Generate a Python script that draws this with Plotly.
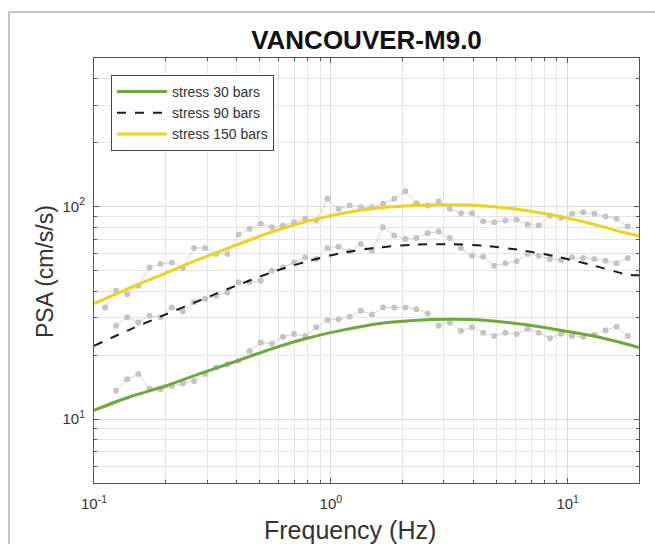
import plotly.graph_objects as go

# ---------------- data ----------------
# theoretical curves
curve_freq = [0.1, 0.141, 0.2, 0.282, 0.398, 0.562, 0.794, 1.12, 1.58, 2.24, 3.16, 4.47,
              6.31, 8.91, 12.6, 17.8, 20.0]
stress30 = [11.0, 12.7, 14.3, 16.4, 18.7, 21.4, 24.0, 26.2, 28.1, 29.1, 29.5, 29.2,
            28.0, 26.4, 24.7, 22.5, 21.7]
stress90 = [22.1, 26.3, 31.0, 36.3, 42.4, 49.0, 55.2, 60.5, 64.1, 66.1, 66.5, 65.3,
            62.4, 58.2, 53.1, 47.9, 47.5]
stress150 = [34.9, 41.3, 48.5, 56.8, 65.8, 75.9, 85.1, 92.9, 98.4, 101.2, 102.0, 100.7,
             96.6, 90.6, 83.0, 74.8, 72.8]

# observed (gray) spectra
obs_freq = [0.1113, 0.1240, 0.1381, 0.1539, 0.1714, 0.1910, 0.2129, 0.2372, 0.2643, 0.2944,
            0.3281, 0.3656, 0.4073, 0.4538, 0.5056, 0.5634, 0.6278, 0.6994, 0.7793, 0.8682,
            0.9674, 1.078, 1.201, 1.338, 1.491, 1.661, 1.851, 2.062, 2.297, 2.560,
            2.852, 3.178, 3.540, 3.945, 4.395, 4.898, 5.458, 6.080, 6.775, 7.548,
            8.411, 9.371, 10.44, 11.63, 12.96, 14.44, 16.09, 17.93]
obs_high = [33.5, 40.2, 38.7, 42.4, 51.7, 53.7, 54.6, 51.4, 63.8, 63.8,
            59.8, 59.8, 73.8, 78.5, 82.9, 79.9, 81.4, 84.3, 87.5, 85.9,
            108.7, 97.5, 101.1, 99.2, 99.2, 103.0, 108.7, 118.0, 103.6, 101.1,
            105.9, 97.5, 93.0, 93.0, 85.3, 84.3, 85.9, 86.6, 82.3, 81.4,
            90.7, 88.5, 92.4, 94.0, 92.4, 89.7, 87.5, 80.5]
obs_mid = [None, 27.5, 30.1, 28.5, 30.6, 30.1, 33.5, 32.1, 35.4, 36.7,
           38.0, 39.4, 44.0, 44.0, 44.8, 49.9, 51.7, 54.6, 57.7, 56.7,
           63.8, 64.7, 61.5, 66.7, 62.0, 79.9, 73.0, 70.4, 71.1, 74.8,
           76.2, 71.1, 63.8, 58.7, 58.1, 52.7, 54.1, 55.2, 59.8, 58.7,
           56.7, 56.1, 57.7, 57.3, 56.7, 55.6, 54.1, 57.3]
obs_low = [None, 13.6, 15.4, 16.3, 13.9, 13.8, 14.3, 14.7, 15.1, 16.3,
           17.5, 18.1, 18.8, 20.9, 22.9, 22.6, 24.4, 25.1, 24.6, 27.0,
           29.2, 29.5, 30.3, 32.3, 31.0, 33.5, 33.5, 33.5, 32.9, 31.4,
           27.5, 28.5, 26.0, 27.0, 25.5, 24.6, 25.5, 25.1, 26.5, 25.5,
           24.0, 25.2, 24.6, 24.4, 24.9, 26.2, 27.2, 24.6]

x_tickvals = [0.1, 1, 10]
x_ticktext = ["10<sup>-1</sup>", "10<sup>0</sup>", "10<sup>1</sup>"]
x_minor = [0.2, 0.3, 0.4, 0.5, 0.6, 0.7, 0.8, 0.9, 2, 3, 4, 5, 6, 7, 8, 9, 20]
y_tickvals = [10, 100]
y_ticktext = ["10<sup>1</sup>", "10<sup>2</sup>"]
y_minor = [5, 6, 7, 8, 9, 20, 30, 40, 50, 60, 70, 80, 90, 200, 300, 400, 500]

FONT = "Liberation Sans, Arial, Helvetica, sans-serif"
GRAY_MARK = "#c4c4c4"
GRAY_LINE = "#d4d4d4"

fig = go.Figure()

for ys in (obs_high, obs_mid, obs_low):
    fig.add_trace(go.Scatter(
        x=obs_freq, y=ys, mode="lines+markers", showlegend=False,
        line=dict(color=GRAY_LINE, width=1),
        marker=dict(color=GRAY_MARK, size=6, symbol="circle"),
        connectgaps=False, hoverinfo="skip"))

fig.add_trace(go.Scatter(x=curve_freq, y=stress30, mode="lines", name="stress 30 bars",
                         line=dict(color="#6fa83a", width=3, shape="spline", smoothing=0.8)))
fig.add_trace(go.Scatter(x=curve_freq, y=stress90, mode="lines", name="stress 90 bars",
                         line=dict(color="#1a1a1a", width=2, dash="dash", shape="spline", smoothing=0.8)))
fig.add_trace(go.Scatter(x=curve_freq, y=stress150, mode="lines", name="stress 150 bars",
                         line=dict(color="#ebd320", width=3, shape="spline", smoothing=0.8)))

W, H = 655, 544
L, R, T, B = 94, 639, 58, 483

axis_common = dict(
    showline=True, linecolor="#555555", linewidth=1, mirror="ticks",
    ticks="inside", ticklen=5, tickcolor="#555555", tickwidth=1,
    showgrid=True, gridcolor="#d8d8d8", gridwidth=1, zeroline=False,
    tickfont=dict(family=FONT, size=15, color="#333333"),
)

fig.update_layout(
    width=W, height=H,
    margin=dict(l=L, r=W - R, t=T, b=H - B, pad=0),
    paper_bgcolor="white", plot_bgcolor="white",
    font=dict(family=FONT, color="#333333"),
    xaxis=dict(type="log", range=[-1, 1.30103], tickmode="array",
               tickvals=x_tickvals, ticktext=x_ticktext, ticklabelstandoff=7,
               minor=dict(tickmode="array", tickvals=x_minor, ticks="inside", ticklen=3,
                          tickcolor="#555555", showgrid=True, gridcolor="#e4e4e4", gridwidth=1),
               **axis_common),
    yaxis=dict(type="log", range=[0.69897, 2.69897], tickmode="array",
               tickvals=y_tickvals, ticktext=y_ticktext, ticklabelstandoff=5,
               minor=dict(tickmode="array", tickvals=y_minor, ticks="inside", ticklen=3,
                          tickcolor="#555555", showgrid=True, gridcolor="#e4e4e4", gridwidth=1),
               **axis_common),
    title=dict(text="<b>VANCOUVER-M9.0</b>", x=0.5, xref="paper", xanchor="center",
               y=1 - 40 / H, yref="container", yanchor="middle",
               font=dict(family=FONT, size=26, color="#111111")),
    legend=dict(x=(111 - L) / (R - L), y=1 - (75 - T) / (B - T), xanchor="left", yanchor="top",
                bgcolor="white", bordercolor="#444444", borderwidth=1,
                font=dict(family=FONT, size=14, color="#333333"),
                itemwidth=50, tracegroupgap=0),
    showlegend=True,
)

# axis titles as annotations for precise placement
fig.add_annotation(text="Frequency (Hz)", xref="paper", yref="paper",
                   x=(350 - L) / (R - L), y=(B - 530) / (B - T), xanchor="center", yanchor="middle",
                   showarrow=False, font=dict(family=FONT, size=25, color="#333333"))
fig.add_annotation(text="PSA (cm/s/s)", xref="paper", yref="paper", textangle=-90,
                   x=(45 - L) / (R - L), y=(B - 272) / (B - T), xanchor="center", yanchor="middle",
                   showarrow=False, font=dict(family=FONT, size=23, color="#333333"))

# outer figure frame (top and left edges visible)
fx0 = (9 - L) / (R - L)
fy0 = (B - 12) / (B - T)
fig.add_shape(type="line", xref="paper", yref="paper", x0=fx0, x1=(W - L) / (R - L), y0=fy0, y1=fy0,
              line=dict(color="#888888", width=1))
fig.add_shape(type="line", xref="paper", yref="paper", x0=fx0, x1=fx0, y0=fy0, y1=(B - H) / (B - T),
              line=dict(color="#888888", width=1))

fig.write_html("out.html")
